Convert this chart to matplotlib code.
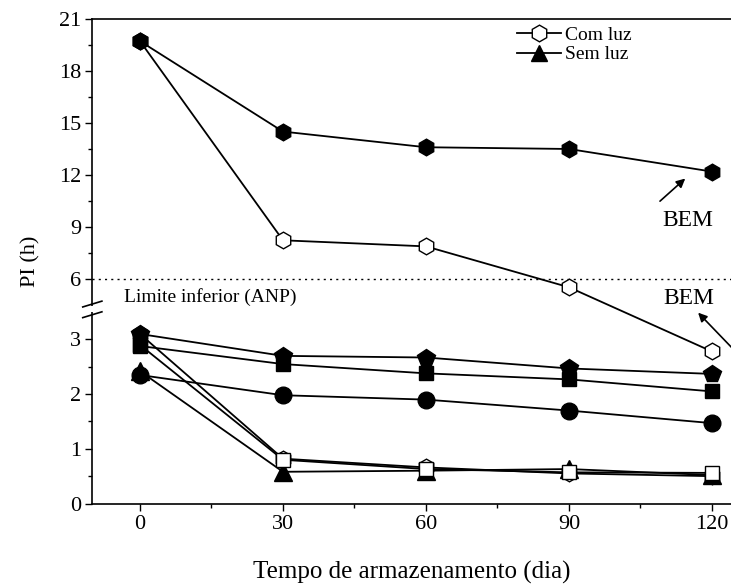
import numpy as np
import matplotlib
matplotlib.use("Agg")
import matplotlib.pyplot as plt
from matplotlib.ticker import FixedLocator

plt.rcParams['font.family'] = ['Liberation Serif', 'DejaVu Serif']

# storage time (days)
dias = [0, 30, 60, 90, 120]

# upper part (BEM)
com_luz_bem = [19.7, 8.25, 7.9, 5.55, 2.78]
sem_luz_bem = [19.7, 14.5, 13.6, 13.5, 12.2]

# lower part
pentagono = [3.10, 2.70, 2.67, 2.47, 2.37]
quadrado = [2.88, 2.55, 2.38, 2.27, 2.05]
circulo = [2.35, 1.98, 1.90, 1.70, 1.47]
hex_aberto = [3.10, 0.82, 0.66, 0.55, 0.50]
quad_aberto = [2.90, 0.80, 0.63, 0.57, 0.56]
triangulo = [2.42, 0.58, 0.60, 0.63, 0.52]

limite_anp = 6

# broken y axis: 0..B1 at full scale, B2..21 compressed
B1, B2 = 3.55, 4.28
R = 17.4 / 54.7
EPS = 1e-3


def fwd(y):
    y = np.asarray(y, dtype=float)
    mid = B1 + (y - B1) * EPS
    top = B1 + (B2 - B1) * EPS + (y - B2) * R
    return np.where(y <= B1, y, np.where(y >= B2, top, mid))


def inv(t):
    t = np.asarray(t, dtype=float)
    tb = B1 + (B2 - B1) * EPS
    mid = B1 + (t - B1) / EPS
    top = B2 + (t - tb) / R
    return np.where(t <= B1, t, np.where(t >= tb, top, mid))


fig = plt.figure(figsize=(7.31, 5.88), dpi=100)
ax = fig.add_axes([0.1263, 0.1437, 0.8737, 0.8248])
ax.set_yscale('function', functions=(fwd, inv))

lw = 1.3
kw = dict(color='black', lw=lw)

ax.plot(dias, com_luz_bem, marker='h', ms=12, mfc='white', mec='black', label='Com luz', zorder=3, **kw)
ax.plot(dias, sem_luz_bem, marker='h', ms=12, mfc='black', mec='black', zorder=4, **kw)
ax.plot(dias, hex_aberto, marker='h', ms=12, mfc='white', mec='black', zorder=3, **kw)
ax.plot(dias, quad_aberto, marker='s', ms=10, mfc='white', mec='black', zorder=3.2, **kw)
ax.plot(dias, triangulo, marker='^', ms=13, mfc='black', mec='black', label='Sem luz', zorder=3.1, **kw)
ax.plot(dias, circulo, marker='o', ms=12, mfc='black', mec='black', zorder=3.3, **kw)
ax.plot(dias, pentagono, marker='p', ms=13, mfc='black', mec='black', zorder=3.4, **kw)
ax.plot(dias, quadrado, marker='s', ms=10, mfc='black', mec='black', zorder=3.5, **kw)

ax.axhline(limite_anp, color='black', lw=1.0, ls=(0, (1.5, 3)), zorder=2)
ax.text(-3.3, 4.97, 'Limite inferior (ANP)', fontsize=14, va='center', ha='left')

arrow = dict(arrowstyle='-|>', color='black', lw=1.2, mutation_scale=13, shrinkA=0, shrinkB=0)
ax.text(115, 9.4, 'BEM', fontsize=17, ha='center', va='center')
ax.annotate('', xy=(114.4, 11.8), xytext=(109.1, 10.5), arrowprops=arrow)
ax.text(115.2, 4.9, 'BEM', fontsize=17, ha='center', va='center')
ax.annotate('', xy=(117.1, 3.49), xytext=(124.5, 2.82), arrowprops=arrow,
            annotation_clip=False)

ax.set_xlim(-10, 124)
ax.set_ylim(0, 21)
ax.xaxis.set_major_locator(FixedLocator(dias))
ax.xaxis.set_minor_locator(FixedLocator([15, 45, 75, 105]))
ax.yaxis.set_major_locator(FixedLocator([0, 1, 2, 3, 6, 9, 12, 15, 18, 21]))
ax.yaxis.set_minor_locator(FixedLocator([0.5, 1.5, 2.5, 7.5, 10.5, 13.5, 16.5, 19.5]))
ax.set_yticklabels(['0', '1', '2', '3', '6', '9', '12', '15', '18', '21'])
ax.tick_params(which='major', direction='out', length=5, width=1.0, labelsize=16, pad=3)
ax.tick_params(which='minor', direction='out', length=3, width=1.0)
ax.spines['right'].set_visible(False)
for s in ['left', 'bottom', 'top']:
    ax.spines[s].set_linewidth(1.2)

ax.set_xlabel('Tempo de armazenamento (dia)', fontsize=18, labelpad=20)
ax.set_ylabel('PI (h)', fontsize=16, labelpad=13)

# break marks on the left spine
ytop = float(fwd(21))
yb = B1 / ytop
tr = ax.transAxes
ax.add_patch(plt.Rectangle((-0.01, yb - 0.006), 0.02, 0.012, transform=tr,
                           facecolor='white', edgecolor='none', clip_on=False, zorder=5))
for dy in (0.011, -0.011):
    ax.plot([-0.015, 0.015], [yb + dy - 0.006, yb + dy + 0.006], transform=tr,
            color='black', lw=1.2, clip_on=False, zorder=6)

leg = ax.legend(loc='upper left', bbox_to_anchor=(0.652, 1.0), frameon=False,
                fontsize=14, handlelength=2.3, handletextpad=0.2, labelspacing=0.1,
                borderaxespad=0)
for h in leg.legend_handles:
    h.set_markersize(12)

fig.savefig('out.png', dpi=100)
